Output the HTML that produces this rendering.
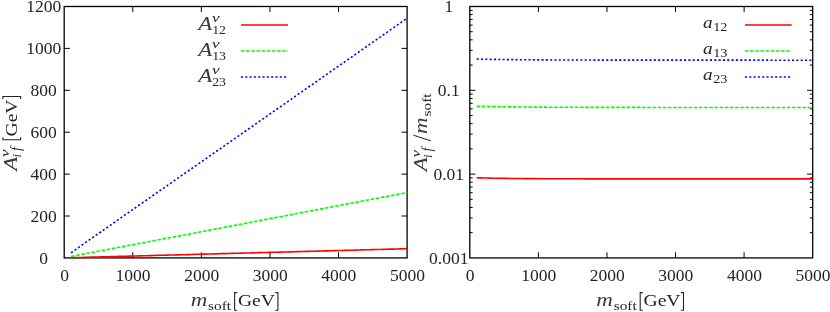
<!DOCTYPE html>
<html><head><meta charset="utf-8"><title>plot</title>
<style>html,body{margin:0;padding:0;background:#fff;}body{width:830px;height:312px;overflow:hidden;font-family:"Liberation Serif",serif;}svg{display:block;will-change:transform;opacity:0.999}</style>
</head><body>
<svg width="830" height="312" viewBox="0 0 830 312">
<rect x="64.2" y="6.5" width="342.90" height="251.40" fill="none" stroke="#000" stroke-width="1.3"/>
<path d="M132.78 257.9v-5.6M132.78 6.5v5.6M201.36 257.9v-5.6M201.36 6.5v5.6M269.94 257.9v-5.6M269.94 6.5v5.6M338.52 257.9v-5.6M338.52 6.5v5.6M64.2 216.00h5.6M407.1 216.00h-5.6M64.2 174.10h5.6M407.1 174.10h-5.6M64.2 132.20h5.6M407.1 132.20h-5.6M64.2 90.30h5.6M407.1 90.30h-5.6M64.2 48.40h5.6M407.1 48.40h-5.6" stroke="#000" stroke-width="1" fill="none"/>
<rect x="469.8" y="6.5" width="342.90" height="251.40" fill="none" stroke="#000" stroke-width="1.3"/>
<path d="M538.38 257.9v-5.6M538.38 6.5v5.6M606.96 257.9v-5.6M606.96 6.5v5.6M675.54 257.9v-5.6M675.54 6.5v5.6M744.12 257.9v-5.6M744.12 6.5v5.6M469.8 90.30h5.6M812.7 90.30h-5.6M469.8 65.07h2.9M812.7 65.07h-2.9M469.8 50.32h2.9M812.7 50.32h-2.9M469.8 39.85h2.9M812.7 39.85h-2.9M469.8 31.73h2.9M812.7 31.73h-2.9M469.8 25.09h2.9M812.7 25.09h-2.9M469.8 19.48h2.9M812.7 19.48h-2.9M469.8 14.62h2.9M812.7 14.62h-2.9M469.8 10.33h2.9M812.7 10.33h-2.9M469.8 174.10h5.6M812.7 174.10h-5.6M469.8 148.87h2.9M812.7 148.87h-2.9M469.8 134.12h2.9M812.7 134.12h-2.9M469.8 123.65h2.9M812.7 123.65h-2.9M469.8 115.53h2.9M812.7 115.53h-2.9M469.8 108.89h2.9M812.7 108.89h-2.9M469.8 103.28h2.9M812.7 103.28h-2.9M469.8 98.42h2.9M812.7 98.42h-2.9M469.8 94.13h2.9M812.7 94.13h-2.9M469.8 232.67h2.9M812.7 232.67h-2.9M469.8 217.92h2.9M812.7 217.92h-2.9M469.8 207.45h2.9M812.7 207.45h-2.9M469.8 199.33h2.9M812.7 199.33h-2.9M469.8 192.69h2.9M812.7 192.69h-2.9M469.8 187.08h2.9M812.7 187.08h-2.9M469.8 182.22h2.9M812.7 182.22h-2.9M469.8 177.93h2.9M812.7 177.93h-2.9" stroke="#000" stroke-width="1" fill="none"/>
<text x="64.5" y="281.0" font-family="Liberation Serif" font-size="17.5" text-anchor="middle" fill="#242424">0</text>
<text x="133.08" y="281.0" font-family="Liberation Serif" font-size="17.5" text-anchor="middle" fill="#242424">1000</text>
<text x="201.66" y="281.0" font-family="Liberation Serif" font-size="17.5" text-anchor="middle" fill="#242424">2000</text>
<text x="270.24" y="281.0" font-family="Liberation Serif" font-size="17.5" text-anchor="middle" fill="#242424">3000</text>
<text x="338.82" y="281.0" font-family="Liberation Serif" font-size="17.5" text-anchor="middle" fill="#242424">4000</text>
<text x="407.4" y="281.0" font-family="Liberation Serif" font-size="17.5" text-anchor="middle" fill="#242424">5000</text>
<text x="470.1" y="281.0" font-family="Liberation Serif" font-size="17.5" text-anchor="middle" fill="#242424">0</text>
<text x="538.68" y="281.0" font-family="Liberation Serif" font-size="17.5" text-anchor="middle" fill="#242424">1000</text>
<text x="607.26" y="281.0" font-family="Liberation Serif" font-size="17.5" text-anchor="middle" fill="#242424">2000</text>
<text x="675.84" y="281.0" font-family="Liberation Serif" font-size="17.5" text-anchor="middle" fill="#242424">3000</text>
<text x="744.42" y="281.0" font-family="Liberation Serif" font-size="17.5" text-anchor="middle" fill="#242424">4000</text>
<text x="813.0" y="281.0" font-family="Liberation Serif" font-size="17.5" text-anchor="middle" fill="#242424">5000</text>
<text x="43.7" y="263.8" font-family="Liberation Serif" font-size="17.5" text-anchor="middle" fill="#242424">0</text>
<text x="43.7" y="221.9" font-family="Liberation Serif" font-size="17.5" text-anchor="middle" fill="#242424">200</text>
<text x="43.7" y="180.0" font-family="Liberation Serif" font-size="17.5" text-anchor="middle" fill="#242424">400</text>
<text x="43.7" y="138.1" font-family="Liberation Serif" font-size="17.5" text-anchor="middle" fill="#242424">600</text>
<text x="43.7" y="96.2" font-family="Liberation Serif" font-size="17.5" text-anchor="middle" fill="#242424">800</text>
<text x="43.7" y="54.3" font-family="Liberation Serif" font-size="17.5" text-anchor="middle" fill="#242424">1000</text>
<text x="43.7" y="12.4" font-family="Liberation Serif" font-size="17.5" text-anchor="middle" fill="#242424">1200</text>
<text x="448.8" y="12.4" font-family="Liberation Serif" font-size="17.5" text-anchor="middle" fill="#242424">1</text>
<text x="448.8" y="96.2" font-family="Liberation Serif" font-size="17.5" text-anchor="middle" fill="#242424">0.1</text>
<text x="448.8" y="180.0" font-family="Liberation Serif" font-size="17.5" text-anchor="middle" fill="#242424">0.01</text>
<text x="448.8" y="263.8" font-family="Liberation Serif" font-size="17.5" text-anchor="middle" fill="#242424">0.001</text>
<g transform="translate(191.30,306.3)">
<text x="-0.6" y="0" font-family="Liberation Serif" font-size="19" text-anchor="start" fill="#3c3c3c" font-style="italic" textLength="16.6" lengthAdjust="spacingAndGlyphs">m</text>
<text x="16.8" y="3.2" font-family="Liberation Serif" font-size="12.5" text-anchor="start" fill="#242424" textLength="23" lengthAdjust="spacingAndGlyphs">soft</text>
<path d="M45.90 -13.7H43.30V4.0H45.90" fill="none" stroke="#242424" stroke-width="1.1"/>
<text x="46.6" y="0" font-family="Liberation Serif" font-size="17.6" text-anchor="start" fill="#242424" textLength="37" lengthAdjust="spacingAndGlyphs">GeV</text>
<path d="M84.00 -13.7H86.60V4.0H84.00" fill="none" stroke="#242424" stroke-width="1.1"/>
</g>
<g transform="translate(596.90,306.3)">
<text x="-0.6" y="0" font-family="Liberation Serif" font-size="19" text-anchor="start" fill="#3c3c3c" font-style="italic" textLength="16.6" lengthAdjust="spacingAndGlyphs">m</text>
<text x="16.8" y="3.2" font-family="Liberation Serif" font-size="12.5" text-anchor="start" fill="#242424" textLength="23" lengthAdjust="spacingAndGlyphs">soft</text>
<path d="M45.90 -13.7H43.30V4.0H45.90" fill="none" stroke="#242424" stroke-width="1.1"/>
<text x="46.6" y="0" font-family="Liberation Serif" font-size="17.6" text-anchor="start" fill="#242424" textLength="37" lengthAdjust="spacingAndGlyphs">GeV</text>
<path d="M84.00 -13.7H86.60V4.0H84.00" fill="none" stroke="#242424" stroke-width="1.1"/>
</g>
<g transform="translate(16.6,169.8) rotate(-90)">
<text x="-0.9" y="0" font-family="Liberation Serif" font-size="18.5" text-anchor="start" fill="#3c3c3c" font-style="italic" textLength="14" lengthAdjust="spacingAndGlyphs">A</text>
<text x="12.8" y="-7.6" font-family="Liberation Serif" font-size="13.5" text-anchor="start" fill="#242424" font-style="italic" textLength="7.6" lengthAdjust="spacingAndGlyphs">ν</text>
<text x="12.2" y="4.3" font-family="Liberation Serif" font-size="13" text-anchor="start" fill="#242424" font-style="italic">i</text>
<text x="18.8" y="4.3" font-family="Liberation Serif" font-size="14" text-anchor="start" fill="#242424" font-style="italic">f</text>
<path d="M32.60 -13.7H30.00V4.0H32.60" fill="none" stroke="#242424" stroke-width="1.1"/>
<text x="33.3" y="0" font-family="Liberation Serif" font-size="17.6" text-anchor="start" fill="#242424" textLength="37" lengthAdjust="spacingAndGlyphs">GeV</text>
<path d="M70.70 -13.7H73.30V4.0H70.70" fill="none" stroke="#242424" stroke-width="1.1"/>
</g>
<g transform="translate(427.3,170.3) rotate(-90)">
<text x="-0.9" y="0" font-family="Liberation Serif" font-size="18.5" text-anchor="start" fill="#3c3c3c" font-style="italic" textLength="14" lengthAdjust="spacingAndGlyphs">A</text>
<text x="12.8" y="-7.6" font-family="Liberation Serif" font-size="13.5" text-anchor="start" fill="#242424" font-style="italic" textLength="7.6" lengthAdjust="spacingAndGlyphs">ν</text>
<text x="12.2" y="4.3" font-family="Liberation Serif" font-size="13" text-anchor="start" fill="#242424" font-style="italic">i</text>
<text x="18.8" y="4.3" font-family="Liberation Serif" font-size="14" text-anchor="start" fill="#242424" font-style="italic">f</text>
<path d="M29.4 3.6L35.1 -13.9" stroke="#242424" stroke-width="1.0"/>
<text x="36.4" y="0" font-family="Liberation Serif" font-size="19" text-anchor="start" fill="#3c3c3c" font-style="italic" textLength="16.6" lengthAdjust="spacingAndGlyphs">m</text>
<text x="53.8" y="3.2" font-family="Liberation Serif" font-size="12.5" text-anchor="start" fill="#242424" textLength="23" lengthAdjust="spacingAndGlyphs">soft</text>
</g>
<path d="M71.06 257.71 L74.49 257.62 L77.92 257.52 L81.34 257.43 L84.77 257.34 L88.20 257.24 L91.63 257.15 L95.06 257.06 L98.49 256.97 L101.92 256.88 L105.35 256.78 L108.78 256.69 L112.21 256.60 L115.64 256.51 L119.06 256.42 L122.49 256.33 L125.92 256.24 L129.35 256.14 L132.78 256.05 L136.21 255.96 L139.64 255.87 L143.07 255.78 L146.50 255.69 L149.93 255.60 L153.35 255.50 L156.78 255.41 L160.21 255.32 L163.64 255.23 L167.07 255.14 L170.50 255.05 L173.93 254.96 L177.36 254.86 L180.79 254.77 L184.22 254.68 L187.64 254.59 L191.07 254.50 L194.50 254.41 L197.93 254.31 L201.36 254.22 L204.79 254.13 L208.22 254.04 L211.65 253.95 L215.08 253.86 L218.51 253.76 L221.93 253.67 L225.36 253.58 L228.79 253.49 L232.22 253.40 L235.65 253.31 L239.08 253.21 L242.51 253.12 L245.94 253.03 L249.37 252.94 L252.80 252.85 L256.22 252.75 L259.65 252.66 L263.08 252.57 L266.51 252.48 L269.94 252.39 L273.37 252.30 L276.80 252.20 L280.23 252.11 L283.66 252.02 L287.08 251.93 L290.51 251.84 L293.94 251.74 L297.37 251.65 L300.80 251.56 L304.23 251.47 L307.66 251.38 L311.09 251.29 L314.52 251.19 L317.95 251.10 L321.38 251.01 L324.80 250.92 L328.23 250.83 L331.66 250.73 L335.09 250.64 L338.52 250.55 L341.95 250.46 L345.38 250.37 L348.81 250.28 L352.24 250.18 L355.67 250.09 L359.09 250.00 L362.52 249.91 L365.95 249.82 L369.38 249.72 L372.81 249.63 L376.24 249.54 L379.67 249.45 L383.10 249.36 L386.53 249.26 L389.96 249.17 L393.38 249.08 L396.81 248.99 L400.24 248.90 L403.67 248.81 L407.10 248.71" fill="none" stroke="#ff0000" stroke-width="1.6" />
<path d="M476.66 177.73 L480.09 177.84 L483.52 177.94 L486.94 178.03 L490.37 178.11 L493.80 178.18 L497.23 178.24 L500.66 178.30 L504.09 178.36 L507.52 178.41 L510.95 178.45 L514.38 178.49 L517.81 178.53 L521.24 178.56 L524.66 178.59 L528.09 178.62 L531.52 178.64 L534.95 178.66 L538.38 178.69 L541.81 178.70 L545.24 178.72 L548.67 178.73 L552.10 178.75 L555.52 178.76 L558.95 178.77 L562.38 178.78 L565.81 178.79 L569.24 178.80 L572.67 178.81 L576.10 178.81 L579.53 178.82 L582.96 178.82 L586.39 178.83 L589.82 178.83 L593.24 178.84 L596.67 178.84 L600.10 178.84 L603.53 178.85 L606.96 178.85 L610.39 178.85 L613.82 178.86 L617.25 178.86 L620.68 178.86 L624.11 178.86 L627.53 178.86 L630.96 178.86 L634.39 178.86 L637.82 178.87 L641.25 178.87 L644.68 178.87 L648.11 178.87 L651.54 178.87 L654.97 178.87 L658.39 178.87 L661.82 178.87 L665.25 178.87 L668.68 178.87 L672.11 178.87 L675.54 178.87 L678.97 178.87 L682.40 178.87 L685.83 178.87 L689.26 178.87 L692.68 178.87 L696.11 178.87 L699.54 178.87 L702.97 178.88 L706.40 178.88 L709.83 178.88 L713.26 178.88 L716.69 178.88 L720.12 178.88 L723.55 178.88 L726.98 178.88 L730.40 178.88 L733.83 178.88 L737.26 178.88 L740.69 178.88 L744.12 178.88 L747.55 178.88 L750.98 178.88 L754.41 178.88 L757.84 178.88 L761.27 178.88 L764.69 178.88 L768.12 178.88 L771.55 178.88 L774.98 178.88 L778.41 178.88 L781.84 178.88 L785.27 178.88 L788.70 178.88 L792.13 178.88 L795.56 178.88 L798.98 178.88 L802.41 178.88 L805.84 178.88 L809.27 178.88 L812.70 178.88" fill="none" stroke="#ff0000" stroke-width="1.6" />
<path d="M71.06 256.55 L74.49 255.88 L77.92 255.21 L81.34 254.54 L84.77 253.88 L88.20 253.22 L91.63 252.56 L95.06 251.90 L98.49 251.24 L101.92 250.58 L105.35 249.93 L108.78 249.27 L112.21 248.62 L115.64 247.97 L119.06 247.31 L122.49 246.66 L125.92 246.01 L129.35 245.36 L132.78 244.71 L136.21 244.05 L139.64 243.40 L143.07 242.75 L146.50 242.10 L149.93 241.45 L153.35 240.80 L156.78 240.15 L160.21 239.50 L163.64 238.85 L167.07 238.20 L170.50 237.55 L173.93 236.90 L177.36 236.25 L180.79 235.60 L184.22 234.95 L187.64 234.30 L191.07 233.65 L194.50 233.00 L197.93 232.35 L201.36 231.70 L204.79 231.05 L208.22 230.39 L211.65 229.74 L215.08 229.09 L218.51 228.44 L221.93 227.79 L225.36 227.14 L228.79 226.49 L232.22 225.83 L235.65 225.18 L239.08 224.53 L242.51 223.88 L245.94 223.23 L249.37 222.57 L252.80 221.92 L256.22 221.27 L259.65 220.62 L263.08 219.97 L266.51 219.31 L269.94 218.66 L273.37 218.01 L276.80 217.36 L280.23 216.70 L283.66 216.05 L287.08 215.40 L290.51 214.74 L293.94 214.09 L297.37 213.44 L300.80 212.79 L304.23 212.13 L307.66 211.48 L311.09 210.83 L314.52 210.17 L317.95 209.52 L321.38 208.87 L324.80 208.21 L328.23 207.56 L331.66 206.91 L335.09 206.26 L338.52 205.60 L341.95 204.95 L345.38 204.30 L348.81 203.64 L352.24 202.99 L355.67 202.34 L359.09 201.68 L362.52 201.03 L365.95 200.38 L369.38 199.72 L372.81 199.07 L376.24 198.42 L379.67 197.76 L383.10 197.11 L386.53 196.45 L389.96 195.80 L393.38 195.15 L396.81 194.49 L400.24 193.84 L403.67 193.19 L407.10 192.53" fill="none" stroke="#00ff00" stroke-width="1.6" stroke-dasharray="3.6 1.57"/>
<path d="M476.66 106.26 L480.09 106.34 L483.52 106.42 L486.94 106.49 L490.37 106.55 L493.80 106.62 L497.23 106.67 L500.66 106.73 L504.09 106.78 L507.52 106.83 L510.95 106.87 L514.38 106.91 L517.81 106.95 L521.24 106.98 L524.66 107.02 L528.09 107.05 L531.52 107.08 L534.95 107.10 L538.38 107.13 L541.81 107.15 L545.24 107.17 L548.67 107.19 L552.10 107.21 L555.52 107.23 L558.95 107.24 L562.38 107.26 L565.81 107.27 L569.24 107.29 L572.67 107.30 L576.10 107.31 L579.53 107.32 L582.96 107.33 L586.39 107.34 L589.82 107.35 L593.24 107.36 L596.67 107.36 L600.10 107.37 L603.53 107.38 L606.96 107.38 L610.39 107.39 L613.82 107.39 L617.25 107.40 L620.68 107.40 L624.11 107.41 L627.53 107.41 L630.96 107.41 L634.39 107.42 L637.82 107.42 L641.25 107.42 L644.68 107.43 L648.11 107.43 L651.54 107.43 L654.97 107.43 L658.39 107.44 L661.82 107.44 L665.25 107.44 L668.68 107.44 L672.11 107.44 L675.54 107.44 L678.97 107.45 L682.40 107.45 L685.83 107.45 L689.26 107.45 L692.68 107.45 L696.11 107.45 L699.54 107.45 L702.97 107.45 L706.40 107.45 L709.83 107.45 L713.26 107.45 L716.69 107.46 L720.12 107.46 L723.55 107.46 L726.98 107.46 L730.40 107.46 L733.83 107.46 L737.26 107.46 L740.69 107.46 L744.12 107.46 L747.55 107.46 L750.98 107.46 L754.41 107.46 L757.84 107.46 L761.27 107.46 L764.69 107.46 L768.12 107.46 L771.55 107.46 L774.98 107.46 L778.41 107.46 L781.84 107.46 L785.27 107.46 L788.70 107.46 L792.13 107.46 L795.56 107.46 L798.98 107.46 L802.41 107.46 L805.84 107.46 L809.27 107.46 L812.70 107.46" fill="none" stroke="#00ff00" stroke-width="1.6" stroke-dasharray="3.6 1.57"/>
<path d="M71.06 252.96 L74.49 250.50 L77.92 248.05 L81.34 245.61 L84.77 243.18 L88.20 240.75 L91.63 238.33 L95.06 235.92 L98.49 233.51 L101.92 231.10 L105.35 228.70 L108.78 226.30 L112.21 223.90 L115.64 221.50 L119.06 219.11 L122.49 216.72 L125.92 214.33 L129.35 211.94 L132.78 209.55 L136.21 207.16 L139.64 204.78 L143.07 202.39 L146.50 200.00 L149.93 197.62 L153.35 195.23 L156.78 192.85 L160.21 190.46 L163.64 188.08 L167.07 185.69 L170.50 183.31 L173.93 180.92 L177.36 178.54 L180.79 176.15 L184.22 173.77 L187.64 171.38 L191.07 168.99 L194.50 166.61 L197.93 164.22 L201.36 161.83 L204.79 159.45 L208.22 157.06 L211.65 154.67 L215.08 152.28 L218.51 149.89 L221.93 147.50 L225.36 145.11 L228.79 142.72 L232.22 140.33 L235.65 137.94 L239.08 135.55 L242.51 133.16 L245.94 130.77 L249.37 128.38 L252.80 125.99 L256.22 123.60 L259.65 121.20 L263.08 118.81 L266.51 116.42 L269.94 114.03 L273.37 111.63 L276.80 109.24 L280.23 106.85 L283.66 104.45 L287.08 102.06 L290.51 99.67 L293.94 97.27 L297.37 94.88 L300.80 92.49 L304.23 90.09 L307.66 87.70 L311.09 85.30 L314.52 82.91 L317.95 80.51 L321.38 78.12 L324.80 75.72 L328.23 73.33 L331.66 70.93 L335.09 68.54 L338.52 66.14 L341.95 63.75 L345.38 61.35 L348.81 58.96 L352.24 56.56 L355.67 54.17 L359.09 51.77 L362.52 49.37 L365.95 46.98 L369.38 44.58 L372.81 42.19 L376.24 39.79 L379.67 37.39 L383.10 35.00 L386.53 32.60 L389.96 30.21 L393.38 27.81 L396.81 25.41 L400.24 23.02 L403.67 20.62 L407.10 18.23" fill="none" stroke="#0000ff" stroke-width="1.6" stroke-dasharray="2.1 2.22"/>
<path d="M476.66 59.05 L480.09 59.13 L483.52 59.20 L486.94 59.26 L490.37 59.33 L493.80 59.38 L497.23 59.44 L500.66 59.49 L504.09 59.54 L507.52 59.58 L510.95 59.62 L514.38 59.66 L517.81 59.69 L521.24 59.73 L524.66 59.76 L528.09 59.79 L531.52 59.81 L534.95 59.84 L538.38 59.86 L541.81 59.88 L545.24 59.90 L548.67 59.92 L552.10 59.94 L555.52 59.96 L558.95 59.97 L562.38 59.99 L565.81 60.00 L569.24 60.01 L572.67 60.02 L576.10 60.03 L579.53 60.04 L582.96 60.05 L586.39 60.06 L589.82 60.07 L593.24 60.08 L596.67 60.08 L600.10 60.09 L603.53 60.10 L606.96 60.10 L610.39 60.11 L613.82 60.11 L617.25 60.12 L620.68 60.12 L624.11 60.12 L627.53 60.13 L630.96 60.13 L634.39 60.13 L637.82 60.14 L641.25 60.14 L644.68 60.14 L648.11 60.15 L651.54 60.15 L654.97 60.15 L658.39 60.15 L661.82 60.15 L665.25 60.16 L668.68 60.16 L672.11 60.16 L675.54 60.16 L678.97 60.16 L682.40 60.16 L685.83 60.16 L689.26 60.16 L692.68 60.16 L696.11 60.17 L699.54 60.17 L702.97 60.17 L706.40 60.17 L709.83 60.17 L713.26 60.17 L716.69 60.17 L720.12 60.17 L723.55 60.17 L726.98 60.17 L730.40 60.17 L733.83 60.17 L737.26 60.17 L740.69 60.17 L744.12 60.17 L747.55 60.17 L750.98 60.17 L754.41 60.17 L757.84 60.17 L761.27 60.17 L764.69 60.17 L768.12 60.17 L771.55 60.18 L774.98 60.18 L778.41 60.18 L781.84 60.18 L785.27 60.18 L788.70 60.18 L792.13 60.18 L795.56 60.18 L798.98 60.18 L802.41 60.18 L805.84 60.18 L809.27 60.18 L812.70 60.18" fill="none" stroke="#0000ff" stroke-width="1.6" stroke-dasharray="2.1 2.22"/>
<path d="M240.9 25.06H288" stroke="#ff0000" stroke-width="1.6" />
<path d="M744.9 25.06H791.7" stroke="#ff0000" stroke-width="1.6" />
<g transform="translate(199.2,29.76)">
<text x="-0.9" y="0" font-family="Liberation Serif" font-size="18.5" text-anchor="start" fill="#3c3c3c" font-style="italic" textLength="14" lengthAdjust="spacingAndGlyphs">A</text>
<text x="12.8" y="-7.6" font-family="Liberation Serif" font-size="13.5" text-anchor="start" fill="#242424" font-style="italic" textLength="7.6" lengthAdjust="spacingAndGlyphs">ν</text>
<text x="13.0" y="4.3" font-family="Liberation Serif" font-size="13.5" text-anchor="start" fill="#242424" textLength="13.8" lengthAdjust="spacingAndGlyphs">12</text>
</g>
<text x="703.0" y="28.16" font-family="Liberation Serif" font-size="17" text-anchor="start" fill="#242424" font-style="italic" textLength="9.6" lengthAdjust="spacingAndGlyphs">a</text>
<text x="713.2" y="30.96" font-family="Liberation Serif" font-size="13.5" text-anchor="start" fill="#242424" textLength="14.2" lengthAdjust="spacingAndGlyphs">12</text>
<path d="M240.9 51.04H288" stroke="#00ff00" stroke-width="1.6" stroke-dasharray="3.6 1.57"/>
<path d="M744.9 51.04H791.7" stroke="#00ff00" stroke-width="1.6" stroke-dasharray="3.6 1.57"/>
<g transform="translate(199.2,55.74)">
<text x="-0.9" y="0" font-family="Liberation Serif" font-size="18.5" text-anchor="start" fill="#3c3c3c" font-style="italic" textLength="14" lengthAdjust="spacingAndGlyphs">A</text>
<text x="12.8" y="-7.6" font-family="Liberation Serif" font-size="13.5" text-anchor="start" fill="#242424" font-style="italic" textLength="7.6" lengthAdjust="spacingAndGlyphs">ν</text>
<text x="13.0" y="4.3" font-family="Liberation Serif" font-size="13.5" text-anchor="start" fill="#242424" textLength="13.8" lengthAdjust="spacingAndGlyphs">13</text>
</g>
<text x="703.0" y="54.14" font-family="Liberation Serif" font-size="17" text-anchor="start" fill="#242424" font-style="italic" textLength="9.6" lengthAdjust="spacingAndGlyphs">a</text>
<text x="713.2" y="56.94" font-family="Liberation Serif" font-size="13.5" text-anchor="start" fill="#242424" textLength="14.2" lengthAdjust="spacingAndGlyphs">13</text>
<path d="M240.9 77.0H288" stroke="#0000ff" stroke-width="1.6" stroke-dasharray="2.1 2.22"/>
<path d="M744.9 77.0H791.7" stroke="#0000ff" stroke-width="1.6" stroke-dasharray="2.1 2.22"/>
<g transform="translate(199.2,81.70)">
<text x="-0.9" y="0" font-family="Liberation Serif" font-size="18.5" text-anchor="start" fill="#3c3c3c" font-style="italic" textLength="14" lengthAdjust="spacingAndGlyphs">A</text>
<text x="12.8" y="-7.6" font-family="Liberation Serif" font-size="13.5" text-anchor="start" fill="#242424" font-style="italic" textLength="7.6" lengthAdjust="spacingAndGlyphs">ν</text>
<text x="13.0" y="4.3" font-family="Liberation Serif" font-size="13.5" text-anchor="start" fill="#242424" textLength="13.8" lengthAdjust="spacingAndGlyphs">23</text>
</g>
<text x="703.0" y="80.1" font-family="Liberation Serif" font-size="17" text-anchor="start" fill="#242424" font-style="italic" textLength="9.6" lengthAdjust="spacingAndGlyphs">a</text>
<text x="713.2" y="82.9" font-family="Liberation Serif" font-size="13.5" text-anchor="start" fill="#242424" textLength="14.2" lengthAdjust="spacingAndGlyphs">23</text>
</svg>
</body></html>
